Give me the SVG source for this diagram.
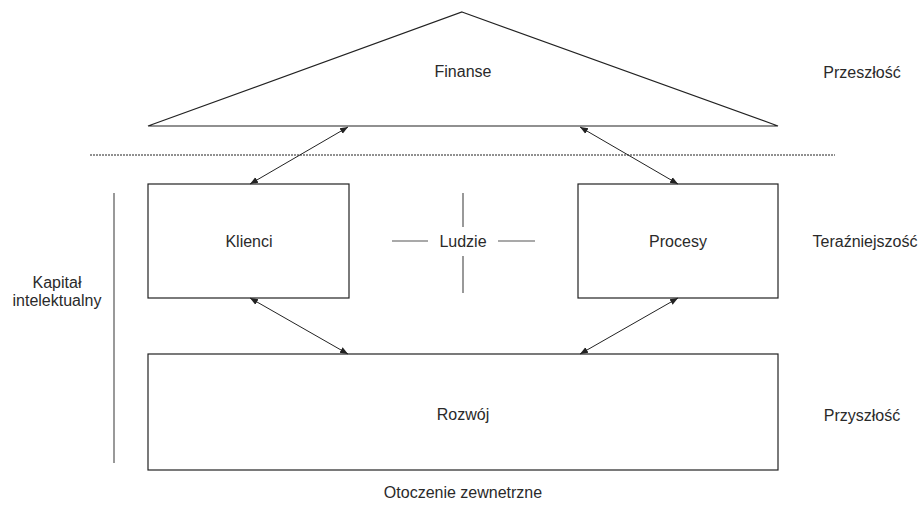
<svg xmlns="http://www.w3.org/2000/svg" width="920" height="512" viewBox="0 0 920 512">
<style>
text{font-family:"Liberation Sans",Arial,sans-serif;font-size:16px;fill:#2a2a2a}
.c{text-anchor:middle}
.s{fill:#fff;stroke:#222;stroke-width:1.2}
.g{stroke:#555;stroke-width:1.2}
.a{stroke:#222;stroke-width:1;fill:none;marker-start:url(#ah);marker-end:url(#ah)}
</style>
<defs>
<marker id="ah" viewBox="0 0 10 10" refX="10" refY="5" markerWidth="8" markerHeight="8" orient="auto-start-reverse" markerUnits="userSpaceOnUse">
<path d="M0,1 L10,5 L0,9 z" fill="#222"/>
</marker>
</defs>
<rect width="920" height="512" fill="#fff"/>
<g id="finanse">
<polygon class="s" points="462,12 778,126 148,126"/>
<text class="c" x="463" y="77">Finanse</text>
</g>
<line x1="90" y1="155" x2="835" y2="155" stroke="#222" stroke-width="1" stroke-dasharray="2,1"/>
<g id="klienci">
<rect class="s" x="148" y="184" width="201" height="114"/>
<text class="c" x="249" y="247">Klienci</text>
</g>
<g id="procesy">
<rect class="s" x="578" y="184" width="200" height="114"/>
<text class="c" x="678" y="247">Procesy</text>
</g>
<g id="rozwoj">
<rect class="s" x="148" y="354" width="630" height="116"/>
<text class="c" x="463" y="420">Rozwój</text>
</g>
<g id="ludzie">
<text class="c" x="463" y="247">Ludzie</text>
<line class="g" x1="392" y1="241" x2="428" y2="241"/>
<line class="g" x1="498" y1="241" x2="535" y2="241"/>
<line class="g" x1="463" y1="193" x2="463" y2="227"/>
<line class="g" x1="463" y1="256" x2="463" y2="293"/>
</g>
<g id="kapital">
<line class="g" x1="114" y1="193" x2="114" y2="463"/>
<text class="c" x="57" y="288">Kapitał</text>
<text class="c" x="57" y="306">intelektualny</text>
</g>
<g id="labels">
<text class="c" x="862" y="78">Przeszłość</text>
<text class="c" x="865" y="247">Teraźniejszość</text>
<text class="c" x="862" y="421">Przyszłość</text>
<text class="c" x="463" y="498">Otoczenie zewnetrzne</text>
</g>
<g id="connectors">
<line class="a" x1="250" y1="184" x2="348" y2="127"/>
<line class="a" x1="580" y1="127" x2="678" y2="184"/>
<line class="a" x1="250" y1="298" x2="348" y2="354"/>
<line class="a" x1="678" y1="298" x2="580" y2="354"/>
</g>
</svg>
